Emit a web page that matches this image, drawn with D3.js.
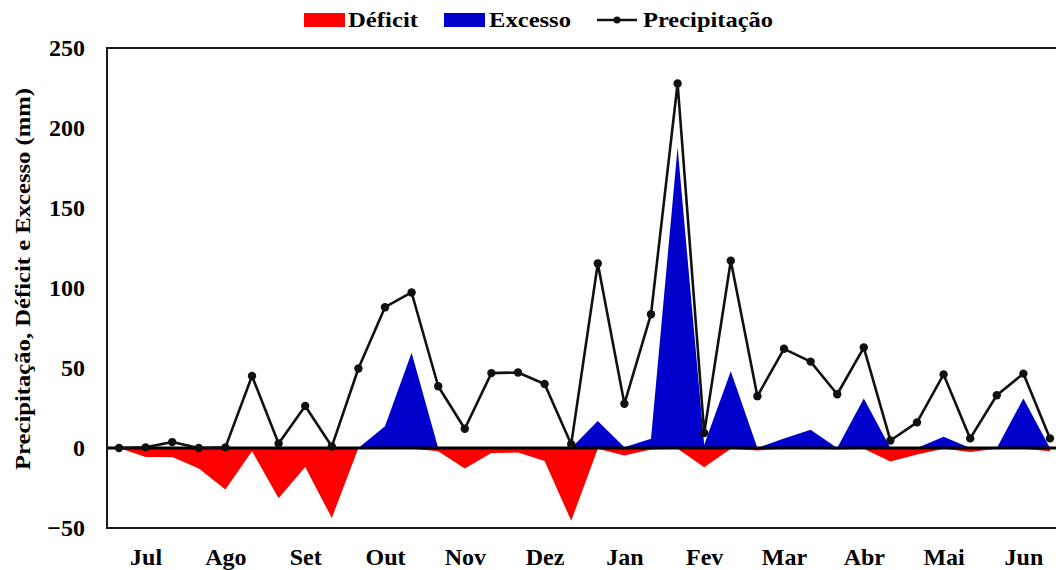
<!DOCTYPE html>
<html>
<head>
<meta charset="utf-8">
<script src="https://cdn.jsdelivr.net/npm/d3@7"></script>
<style>
  html, body { margin: 0; padding: 0; background: #fff; }
  svg { display: block; }
  text { font-family: "Liberation Serif", "Times New Roman", serif; font-weight: bold; fill: #000; }
</style>
</head>
<body>
<svg id="chart" width="1056" height="570"></svg>
<script>
// Decendial water balance, July to June (3 ten-day periods per month)
const months = ["Jul", "Ago", "Set", "Out", "Nov", "Dez", "Jan", "Fev", "Mar", "Abr", "Mai", "Jun"];
const precipitacao = [0, 0.4, 3.7, 0, 0.4, 45, 2.8, 26.3, 0.9, 49.7, 88, 97.2,
  38.6, 12, 46.8, 47.2, 40, 2.3, 115.3, 27.6, 83.6, 227.8, 9.4, 117,
  32.4, 62, 54, 33.6, 62.8, 4.7, 16, 46, 6, 33, 46.5, 6];
const excesso = [0, 0, 0, 0, 0, 0, 0, 0, 0, 0, 13.6, 59.5,
  0, 0, 0, 0, 0, 0, 16.8, 0.5, 5.8, 188, 2, 48,
  0, 6, 11.4, 0, 31, 0, 0, 7, 0, 0, 31, 0];
const deficit = [0, -5.7, -5.7, -12.8, -26, -2, -31.4, -11.8, -43.8, 0, 0, -0.5,
  -2, -12.8, -3.2, -2.8, -8.2, -45.5, -0.5, -4.7, -1, -0.5, -12, -0.5,
  -1.5, -0.5, -0.5, -1, -0.5, -8.5, -4, -0.5, -2.5, -0.5, -0.5, -2];
const yTicks = [-50, 0, 50, 100, 150, 200, 250];

const svg = d3.select("#chart");
const plotLeft = 107, plotRight = 1062, plotTop = 48, plotBottom = 528;

const x = d3.scaleLinear().domain([0, precipitacao.length - 1]).range([119, 1050]);
const y = d3.scaleLinear().domain([-50, 250]).range([plotBottom, plotTop]);

const idx = d3.range(precipitacao.length);

// Deficit and excess areas
const area = vals => d3.area()
  .x(i => x(i))
  .y0(y(0))
  .y1(i => y(vals[i]));

svg.append("path").datum(idx).attr("d", area(deficit)).attr("fill", "#ff0000");
svg.append("path").datum(idx).attr("d", area(excesso)).attr("fill", "#0000cc");

// Plot frame (left, top, bottom)
svg.append("path")
  .attr("d", `M${plotRight},${plotTop}H${plotLeft}V${plotBottom}H${plotRight}`)
  .attr("fill", "none").attr("stroke", "#1a1a1a").attr("stroke-width", 2);

// Zero line
svg.append("line")
  .attr("x1", plotLeft).attr("x2", plotRight).attr("y1", y(0)).attr("y2", y(0))
  .attr("stroke", "#000").attr("stroke-width", 2.8);

// Precipitation line with markers
svg.append("path").datum(idx)
  .attr("d", d3.line().x(i => x(i)).y(i => y(precipitacao[i])))
  .attr("fill", "none").attr("stroke", "#111").attr("stroke-width", 2.6)
  .attr("stroke-linejoin", "round");
svg.append("g").selectAll("circle").data(idx).join("circle")
  .attr("cx", i => x(i)).attr("cy", i => y(precipitacao[i]))
  .attr("r", 4.2).attr("fill", "#111");

// Y axis labels
const yAxis = d3.axisLeft(y).tickValues(yTicks).tickSize(0).tickPadding(22);
const gy = svg.append("g").attr("transform", `translate(${plotLeft},0)`).call(yAxis);
gy.select(".domain").remove();
gy.selectAll("text").attr("font-size", 24).attr("dy", "0.33em")
  .style("font-family", "'Liberation Serif', serif").style("font-weight", "bold");

// X axis month labels (centred on the middle ten-day period)
const monthIdx = months.map((m, k) => 3 * k + 1);
const xAxis = d3.axisBottom(x).tickValues(monthIdx).tickFormat((d, k) => months[k]).tickSize(0).tickPadding(20);
const gx = svg.append("g").attr("transform", `translate(0,${plotBottom})`).call(xAxis);
gx.select(".domain").remove();
gx.selectAll("text").attr("font-size", 24)
  .style("font-family", "'Liberation Serif', serif").style("font-weight", "bold");

// Y axis title
svg.append("text")
  .attr("transform", `translate(30,279) rotate(-90)`)
  .attr("text-anchor", "middle").attr("font-size", 21)
  .attr("textLength", 382).attr("lengthAdjust", "spacingAndGlyphs")
  .text("Precipitação, Déficit e Excesso (mm)");

// Legend
const lg = svg.append("g");
lg.append("rect").attr("x", 304).attr("y", 13).attr("width", 41).attr("height", 14).attr("fill", "#ff0000");
lg.append("text").attr("x", 348).attr("y", 27).attr("font-size", 21)
  .attr("textLength", 70).attr("lengthAdjust", "spacingAndGlyphs").text("Déficit");
lg.append("rect").attr("x", 444).attr("y", 13).attr("width", 41).attr("height", 14).attr("fill", "#0000cc");
lg.append("text").attr("x", 489).attr("y", 27).attr("font-size", 21)
  .attr("textLength", 82).attr("lengthAdjust", "spacingAndGlyphs").text("Excesso");
lg.append("line").attr("x1", 597).attr("x2", 637).attr("y1", 20).attr("y2", 20)
  .attr("stroke", "#111").attr("stroke-width", 2.6);
lg.append("circle").attr("cx", 617).attr("cy", 20).attr("r", 3.5).attr("fill", "#111");
lg.append("text").attr("x", 643).attr("y", 27).attr("font-size", 21)
  .attr("textLength", 130).attr("lengthAdjust", "spacingAndGlyphs").text("Precipitação");
</script>
</body>
</html>
